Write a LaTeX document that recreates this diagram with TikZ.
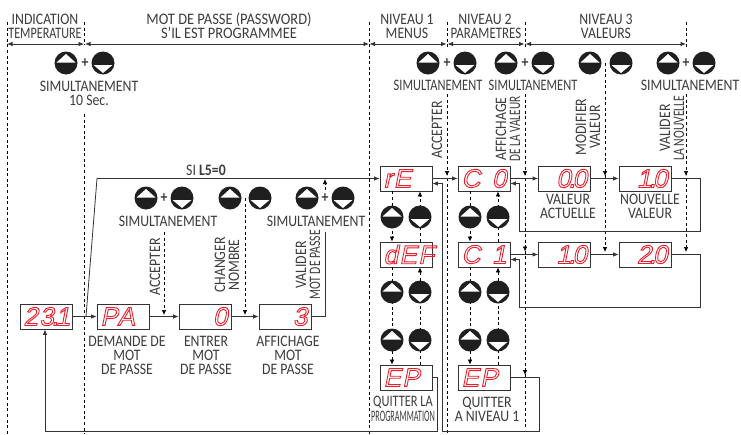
\documentclass[tikz,border=0pt]{standalone}
\usepackage{fontspec}
\usepackage{graphicx}
\usetikzlibrary{arrows.meta,calc}
\setmainfont[FakeStretch=0.86]{Carlito}
\newfontfamily\segfont[FakeSlant=0.2,LetterSpace=6]{Liberation Sans}
\definecolor{labelgray}{HTML}{3C3C3C}
\definecolor{linegray}{HTML}{333333}
\definecolor{segred}{HTML}{E8202E}
\newcommand{\segtext}[1]{\makebox[45pt][l]{\fontsize{26}{26}\segfont\special{pdf: code 1 Tr 0.9 w 0.91 0.125 0.18 RG}\color{segred}#1\special{pdf: code 0 Tr}}}
\newcommand{\segdot}{\kern-2.5pt.\kern-3pt }
\tikzset{
  lab/.style={text=labelgray,align=center,inner sep=0pt,font=\fontsize{16}{14}\selectfont},
  squeeze/.style={lab,xscale=.88},
  narrowlab/.style={lab,xscale=.9},
  vlab/.style={lab,rotate=90},
  disp/.style={draw=linegray,line width=.8pt,fill=white,minimum width=52pt,minimum height=25pt,inner sep=0pt},
  conn/.style={draw=linegray,line width=.8pt},
  arr/.style={conn,-{Latex[length=5.5pt,width=4.5pt]}},
  dimline/.style={conn,{Latex[length=5.5pt,width=4.5pt]}-{Latex[length=5.5pt,width=4.5pt]}},
  guide/.style={draw=black,line width=.7pt,dash pattern=on 3pt off 2.6pt},
  guidearr/.style={guide,-{Latex[length=5pt,width=4.5pt]}},
  btn/.style={circle,fill=black!88,minimum size=23pt,inner sep=0pt},
  upbtn/.style={btn,path picture={\begin{scope}[shift={(path picture bounding box.center)}]\fill[white] (-9.5,-.5) -- (9.5,-.5) -- (0,-9) -- cycle;\end{scope}}},
  dnbtn/.style={btn,path picture={\begin{scope}[shift={(path picture bounding box.center)}]\fill[white] (-9.5,2) -- (9.5,2) -- (0,10) -- cycle;\end{scope}}},
  plus/.style={text=labelgray,inner sep=0pt,font=\fontsize{16}{14}\selectfont\bfseries},
}
\begin{document}
\begin{tikzpicture}[x=1pt,y=-1pt]
\useasboundingbox (0,0) rectangle (741,434);
% free ends
\foreach \n/\x/\y in {a/7/22,ab/7/434,b/84.5/22,bm/84.5/45,bn/84.5/114,bb/84.5/434,c/369/22,cb/369/434,
  d/447/22,dm/447/50,dn/447/94,da/447/176,db/447/434,e/525/22,em/525/50,en/525/94,ea/525/176,eb/525/251.5,ec/525/375,ed/525/430,
  f/686/22,fm/686/50,fn/686/94,fa/686/176,fb/686/252,g/605/63,ga/605/176,gb/605/252,
  h/164/232,hb/164/315,i/245/198,ib/245/315,j/325/190,jb/325/179,k/325/232,l/325/316.5,m/86/316.5,n/97/178.5,
  o/437/377.5,p/437/431,q/45/431,r/539/377.5,s/539/431,t/442/431,u/442/183.5,
  v/700/178.5,w/700/231,x/519/231,y/519/183.5,v2/700/254.5,w2/700/307,x2/519/307,y2/519/259.5,
  xa/392/0,xb/420/0,xc/470/0,xd/498/0}
  {\coordinate (\n) at (\x,\y);}
% dashed guide lines
\draw[guide] (a) -- (ab);
\draw[guide] (b) -- (bm);
\draw[guide] (bn) -- (bb);
\draw[guide] (c) -- (cb);
\draw[guide] (d) -- (dm);
\draw[guide] (dn) -- (db);
\draw[guidearr] (dn) -- (da);
\draw[guide] (e) -- (em);
\draw[guide] (en) -- (ed);
\draw[guidearr] (en) -- (ea);
\draw[guidearr] (en) -- (eb);
\draw[guidearr] (en) -- (ec);
\draw[guide] (f) -- (fm);
\draw[guidearr] (fn) -- (fa);
\draw[guidearr] (fn) -- (fb);
\draw[guidearr] (g) -- (ga);
\draw[guidearr] (g) -- (gb);
\draw[guidearr] (h) -- (hb);
\draw[guidearr] (i) -- (ib);
\draw[guidearr] (j) -- (jb);
% dimension arrows
\draw[dimline] (7,44) -- (84,44);
\draw[dimline] (85,44) -- (369,44);
\draw[dimline] (369.5,44) -- (446.5,44);
\draw[dimline] (447.5,44) -- (524.5,44);
\draw[dimline] (525.5,44) -- (686,44);
% displays
\node[disp] (temp) at (46,316.5) {\segtext{23\segdot 1}};
\node[disp] (pa) at (123,316.5) {\segtext{PA\hfill}};
\node[disp] (zero) at (205,316.5) {\segtext{\hfill 0}};
\node[disp] (three) at (285,316.5) {\segtext{\hfill 3}};
\node[disp] (re) at (406,178.5) {\segtext{rE\hfill}};
\node[disp] (czero) at (484,178.5) {\segtext{C\hfill 0}};
\node[disp] (def) at (406,254.5) {\segtext{dEF\hfill}};
\node[disp] (cone) at (484,254.5) {\segtext{C\hfill 1}};
\node[disp] (ep) at (406,377.5) {\segtext{EP\hfill}};
\node[disp] (epb) at (484,377.5) {\segtext{EP\hfill}};
\node[disp] (vzero) at (564.5,178.5) {\segtext{\hfill 0\segdot 0}};
\node[disp] (vone) at (645,178.5) {\segtext{\hfill 1\segdot 0}};
\node[disp] (wone) at (564.5,254.5) {\segtext{\hfill 1\segdot 0}};
\node[disp] (wtwo) at (645,254.5) {\segtext{\hfill 2\segdot 0}};
% solid connectors
\draw[arr] (temp) -- (pa);
\draw[arr] (pa) -- (zero);
\draw[arr] (zero) -- (three);
\draw[conn] (three.east) -| (k);
\draw[arr] (m) -- (n) -- (re.west);
\draw[arr] (re) -- (czero);
\draw[arr] (czero) -- (vzero);
\draw[arr] (vzero) -- (vone);
\draw[arr] (cone) -- (wone);
\draw[arr] (wone) -- (wtwo);
\draw[arr] (ep.east) -- (o) -- (p) -- (q) -- (temp.south -| q);
\draw[arr] (epb.east) -- (r) -- (s) -- (t) -- (u) -- (u -| re.east);
\draw[arr] (vone.east) -- (v) -- (w) -- (x) -- (y) -- (y -| czero.east);
\draw[arr] (wtwo.east) -- (v2) -- (w2) -- (x2) -- (y2) -- (y2 -| cone.east);
% column links
\draw[guidearr] (re.south -| xa) -- (def.north -| xa);
\draw[guidearr] (czero.south -| xc) -- (cone.north -| xc);
\draw[guidearr] (def.north -| xb) -- (re.south -| xb);
\draw[guidearr] (cone.north -| xd) -- (czero.south -| xd);
\draw[guidearr] (def.south -| xa) -- (ep.north -| xa);
\draw[guidearr] (cone.south -| xc) -- (epb.north -| xc);
\draw[guidearr] (ep.north -| xb) -- (def.south -| xb);
\draw[guidearr] (epb.north -| xd) -- (cone.south -| xd);
% buttons
\foreach \n/\x/\y in {u1/66/63,u2/428/63,u3/506/63,u4/590/63,u5/668/63,u6/146/198,u7/230/198,u8/307/198,
  u9/392/217,u10/392/292,u11/392/340,u12/470/217,u13/470/292,u14/470/340}
  \node[upbtn] (\n) at (\x,\y) {};
\foreach \n/\x/\y in {d1/103/63,d2/465/63,d3/543/63,d4/621/63,d5/704/63,d6/182/198,d7/260/198,d8/343/198,
  d9/420/217,d10/420/292,d11/420/340,d12/498/217,d13/498/292,d14/498/340}
  \node[dnbtn] (\n) at (\x,\y) {};
\foreach \n/\x/\y in {p1/85/63,p2/447/63,p3/525/63,p5/686/63,p6/164/198,p8/325/198}
  \node[plus] (\n) at (\x,\y) {+};
% headers
\node[lab] (h1) at (45,19) {INDICATION};
\node[squeeze] (h2) at (45,33) {TEMPERATURE};
\node[lab,xscale=1.05] (h3) at (229,26) {MOT DE PASSE (PASSWORD)\\S'IL EST PROGRAMMEE};
\node[lab] (h4) at (407,26) {NIVEAU 1\\MENUS};
\node[lab] (h5) at (485,19) {NIVEAU 2};
\node[lab,xscale=.94] (h6) at (486,33) {PARAMETRES};
\node[lab] (h7) at (606,26) {NIVEAU 3\\VALEURS};
% simultaneous labels
\node[lab] (s1) at (89,93) {SIMULTANEMENT\\10 Sec.};
\node[narrowlab] (s2) at (438,85) {SIMULTANEMENT};
\node[narrowlab] (s3) at (533,85) {SIMULTANEMENT};
\node[lab] (s4) at (690,85) {SIMULTANEMENT};
\node[lab] (s5) at (168,221) {SIMULTANEMENT};
\node[lab] (s6) at (316,221) {SIMULTANEMENT};
\node[lab] (si) at (206,170) {SI \textbf{L5=0}};
% rotated labels
\node[vlab] (v1) at (155,267) {ACCEPTER};
\node[vlab] (v2l) at (227,265) {CHANGER\\NOMBRE};
\node[vlab] (v3) at (308,265) {VALIDER\\\scalebox{.85}[1]{MOT DE PASSE}};
\node[vlab] (v4) at (437,130) {ACCEPTER};
\node[vlab] (v5) at (508,129) {AFFICHAGE\\\scalebox{.82}[1]{DE LA VALEUR}};
\node[vlab] (v6) at (588,127) {MODIFIER\\VALEUR};
\node[vlab] (v7) at (672,128) {VALIDER\\\scalebox{.85}[1]{LA NOUVELLE}};
% display captions
\node[lab] (c1) at (127,355) {DEMANDE DE\\MOT\\DE PASSE};
\node[lab] (c2) at (206,355) {ENTRER\\MOT\\DE PASSE};
\node[lab] (c3) at (288,355) {AFFICHAGE\\MOT\\DE PASSE};
\node[narrowlab] (c4) at (403,402) {QUITTER LA};
\node[lab,xscale=.6] (c5) at (403,416) {PROGRAMMATION};
\node[lab] (c6) at (487,409) {QUITTER\\A NIVEAU 1};
\node[lab] (c7) at (568,206) {VALEUR\\ACTUELLE};
\node[lab] (c8) at (650,206) {NOUVELLE\\VALEUR};
\end{tikzpicture}
\end{document}
